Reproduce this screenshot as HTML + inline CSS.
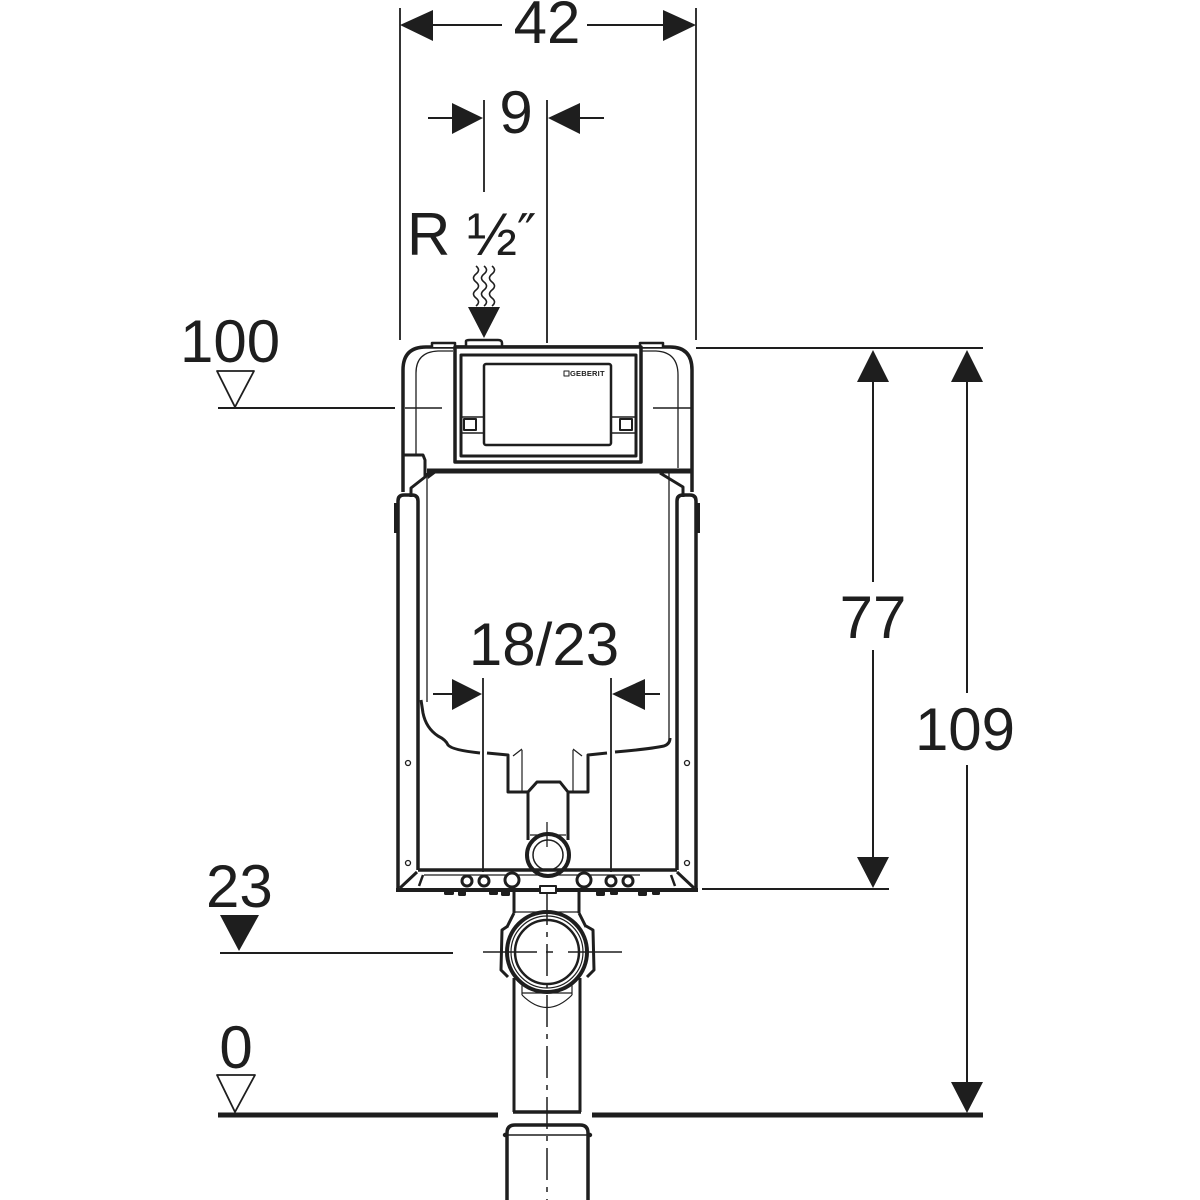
<!DOCTYPE html>
<html>
<head>
<meta charset="utf-8">
<style>
html,body{margin:0;padding:0;background:#fff;}
svg{display:block;}
text{font-family:"Liberation Sans",Arial,sans-serif;fill:#1e1e1e;}
</style>
</head>
<body>
<svg width="1200" height="1200" viewBox="0 0 1200 1200" xmlns="http://www.w3.org/2000/svg">
<rect width="1200" height="1200" fill="#fff"/>
<g stroke="#1e1e1e" fill="none" stroke-linecap="butt" stroke-linejoin="round">

<!-- ===== 42 dimension ===== -->
<line x1="400" y1="8" x2="400" y2="340" stroke-width="1.8"/>
<line x1="696" y1="8" x2="696" y2="340" stroke-width="1.8"/>
<line x1="433" y1="25" x2="502" y2="25" stroke-width="2"/>
<line x1="587" y1="25" x2="663" y2="25" stroke-width="2"/>
<polygon points="400,25 433,10 433,41" fill="#1e1e1e" stroke="none"/>
<polygon points="696,25 663,10 663,41" fill="#1e1e1e" stroke="none"/>

<!-- ===== 9 dimension ===== -->
<line x1="428" y1="118" x2="452" y2="118" stroke-width="2"/>
<polygon points="483,118 452,103 452,134" fill="#1e1e1e" stroke="none"/>
<line x1="484" y1="100" x2="484" y2="192" stroke-width="1.8"/>
<line x1="547" y1="100" x2="547" y2="343" stroke-width="1.8"/>
<polygon points="548,118 580,103 580,134" fill="#1e1e1e" stroke="none"/>
<line x1="580" y1="118" x2="604" y2="118" stroke-width="2"/>

<!-- wavy water lines + arrow -->
<path d="M476,266 q5,4 0,8 t0,8 t0,8 t0,8 t0,8" stroke-width="1.6"/>
<path d="M484,266 q5,4 0,8 t0,8 t0,8 t0,8 t0,8" stroke-width="1.6"/>
<path d="M492,266 q5,4 0,8 t0,8 t0,8 t0,8 t0,8" stroke-width="1.6"/>
<polygon points="468,307 500,307 484,338" fill="#1e1e1e" stroke="none"/>

<!-- ===== right dimension lines ===== -->
<line x1="696" y1="348" x2="983" y2="348" stroke-width="2"/>
<polygon points="873,350 857,382 889,382" fill="#1e1e1e" stroke="none"/>
<line x1="873" y1="382" x2="873" y2="582" stroke-width="2"/>
<line x1="873" y1="650" x2="873" y2="857" stroke-width="2"/>
<polygon points="857,857 889,857 873,888" fill="#1e1e1e" stroke="none"/>
<line x1="702" y1="889" x2="889" y2="889" stroke-width="2"/>

<polygon points="967,350 951,382 983,382" fill="#1e1e1e" stroke="none"/>
<line x1="967" y1="382" x2="967" y2="693" stroke-width="2"/>
<line x1="967" y1="765" x2="967" y2="1082" stroke-width="2"/>
<polygon points="951,1082 983,1082 967,1113" fill="#1e1e1e" stroke="none"/>

<!-- ===== level marks left ===== -->
<polygon points="217,371 254,371 235,407" stroke-width="1.8"/>
<line x1="218" y1="408" x2="395" y2="408" stroke-width="2"/>
<polygon points="220,915 259,915 239,951" fill="#1e1e1e" stroke="none"/>
<line x1="220" y1="953" x2="453" y2="953" stroke-width="2"/>
<polygon points="217,1075 255,1075 235,1112" stroke-width="1.8"/>

<!-- floor -->
<line x1="218" y1="1115" x2="498" y2="1115" stroke-width="5"/>
<line x1="592" y1="1115" x2="983" y2="1115" stroke-width="5"/>

<!-- ===== cistern upper housing ===== -->
<path d="M403,492 L403,370 Q403,347 426,347 L670,347 Q692,347 692,370 L692,492" stroke-width="3.5"/>
<path d="M432,347 L432,343 L455,343 L455,347" stroke-width="2.5" fill="#fff"/>
<path d="M466,347 L466,341 Q466,340 470,340 L498,340 Q502,340 502,343 L502,347" stroke-width="2.5" fill="#fff"/>
<path d="M640,347 L640,343 L663,343 L663,347" stroke-width="2.5" fill="#fff"/>
<path d="M416,455 L416,373 Q416,352 438,351 L453,351" stroke-width="1.3"/>
<path d="M678,468 L678,375 Q678,352 656,351 L642,351" stroke-width="1.3"/>
<path d="M403,455 L423,455 L425,460 L425,477 L411,488 L411,497" stroke-width="3"/>
<path d="M660,473 L683,487 L683,497" stroke-width="3"/>
<line x1="427" y1="471" x2="691" y2="471" stroke-width="5"/>
<polygon points="427,473 436,473 428,479" fill="#1e1e1e" stroke="none"/>

<!-- center 100 line inside -->
<line x1="405" y1="408" x2="442" y2="408" stroke-width="1.5"/>
<line x1="653" y1="408" x2="693" y2="408" stroke-width="1.5"/>

<!-- access panel -->
<rect x="455" y="347" width="186" height="115" stroke-width="3.5" fill="#fff"/>
<rect x="461" y="355" width="175" height="101" stroke-width="3"/>
<rect x="484" y="364" width="127" height="81" rx="2" stroke-width="2.5"/>
<line x1="461" y1="417" x2="484" y2="417" stroke-width="1.5"/>
<line x1="461" y1="433" x2="484" y2="433" stroke-width="1.5"/>
<rect x="464" y="419" width="12" height="11" stroke-width="2"/>
<line x1="611" y1="417" x2="636" y2="417" stroke-width="1.5"/>
<line x1="611" y1="433" x2="636" y2="433" stroke-width="1.5"/>
<rect x="620" y="419" width="12" height="11" stroke-width="2"/>
<rect x="564" y="371" width="5" height="5" stroke-width="1"/>

<!-- thin inner frame lines -->
<line x1="427" y1="473" x2="427" y2="702" stroke-width="1.3"/>
<line x1="669" y1="473" x2="669" y2="742" stroke-width="1.3"/>

<!-- side rails -->
<path d="M398,890 L398,501 Q398,495 404,495 L412,495 Q418,495 418,501 L418,870" stroke-width="3.5"/>
<path d="M696,890 L696,501 Q696,495 690,495 L683,495 Q677,495 677,501 L677,870" stroke-width="3.5"/>
<line x1="396" y1="503" x2="396" y2="533" stroke-width="4"/>
<line x1="698" y1="503" x2="698" y2="533" stroke-width="4"/>

<!-- tank outline -->
<path d="M421,700 L423,713 Q426,728 438,736 Q446,740 448,745 Q452,750 480,753" stroke-width="3"/>
<path d="M487,753 L508,755 L508,792 L528,792 L537,782 L560,782 L568,792 L588,792 L588,755 L607,753" stroke-width="3"/>
<path d="M615,752 Q650,749 664,746 Q670,744 670,738" stroke-width="3"/>
<line x1="522" y1="750" x2="522" y2="792" stroke-width="1.2"/>
<line x1="573" y1="750" x2="573" y2="792" stroke-width="1.2"/>
<line x1="513" y1="756" x2="522" y2="749" stroke-width="1.2"/>
<line x1="582" y1="756" x2="573" y2="749" stroke-width="1.2"/>

<!-- outlet stub -->
<line x1="528" y1="792" x2="528" y2="840" stroke-width="3"/>
<line x1="568" y1="792" x2="568" y2="840" stroke-width="3"/>
<line x1="530" y1="835" x2="566" y2="835" stroke-width="1.2"/>
<circle cx="548" cy="855" r="21" stroke-width="4" fill="#fff"/>
<circle cx="548" cy="855" r="15" stroke-width="1.5"/>
<line x1="547" y1="822" x2="547" y2="847" stroke-width="1.3"/>

<!-- 18/23 dimension -->
<line x1="433" y1="694" x2="452" y2="694" stroke-width="2"/>
<polygon points="482,694 452,679 452,710" fill="#1e1e1e" stroke="none"/>
<line x1="483" y1="678" x2="483" y2="872" stroke-width="1.8"/>
<line x1="611" y1="678" x2="611" y2="872" stroke-width="1.8"/>
<polygon points="612,694 645,679 645,710" fill="#1e1e1e" stroke="none"/>
<line x1="645" y1="694" x2="660" y2="694" stroke-width="2"/>

<!-- screw holes -->
<circle cx="408" cy="763" r="2.5" stroke-width="1.3"/>
<circle cx="408" cy="863" r="2.5" stroke-width="1.3"/>
<circle cx="687" cy="763" r="2.5" stroke-width="1.3"/>
<circle cx="687" cy="863" r="2.5" stroke-width="1.3"/>

<!-- bottom frame -->
<line x1="396" y1="890" x2="698" y2="890" stroke-width="4"/>
<line x1="418" y1="870" x2="677" y2="870" stroke-width="3.5"/>
<line x1="424" y1="875" x2="640" y2="875" stroke-width="1.2"/>
<line x1="400" y1="888" x2="417" y2="872" stroke-width="3"/>
<line x1="423" y1="875" x2="419" y2="886" stroke-width="2.5"/>
<line x1="694" y1="888" x2="677" y2="872" stroke-width="3"/>
<line x1="671" y1="875" x2="675" y2="886" stroke-width="2.5"/>
<g fill="#fff" stroke-width="3">
<circle cx="467" cy="881" r="5"/>
<circle cx="484" cy="881" r="5"/>
<circle cx="512" cy="880" r="7"/>
<circle cx="584" cy="880" r="7"/>
<circle cx="611" cy="881" r="5"/>
<circle cx="628" cy="881" r="5"/>
</g>
<g fill="#1e1e1e" stroke="none">
<rect x="444" y="891" width="10" height="4" rx="1.5"/>
<rect x="458" y="891" width="8" height="5" rx="1.5"/>
<rect x="489" y="891" width="9" height="4" rx="1.5"/>
<rect x="501" y="891" width="9" height="5" rx="1.5"/>
<rect x="596" y="891" width="9" height="5" rx="1.5"/>
<rect x="610" y="891" width="8" height="4" rx="1.5"/>
<rect x="638" y="891" width="9" height="5" rx="1.5"/>
<rect x="652" y="891" width="8" height="4" rx="1.5"/>
</g>
<rect x="540" y="886" width="16" height="7" stroke-width="2" fill="#fff"/>

<!-- ===== lower pipe ===== -->
<line x1="514" y1="892" x2="514" y2="913" stroke-width="3"/>
<line x1="579" y1="892" x2="579" y2="913" stroke-width="3"/>
<line x1="514" y1="912" x2="579" y2="912" stroke-width="1.2"/>
<path d="M514,913 L507,927" stroke-width="3"/>
<path d="M579,913 L586,927" stroke-width="3"/>
<path d="M508,926 L502,930 L501,970 L508,977" stroke-width="3"/>
<path d="M586,926 L593,930 L594,970 L587,977" stroke-width="3"/>
<line x1="514" y1="978" x2="514" y2="1112" stroke-width="3"/>
<line x1="580" y1="978" x2="580" y2="1112" stroke-width="3"/>
<line x1="513" y1="1112" x2="581" y2="1112" stroke-width="3.5"/>
<circle cx="547" cy="952" r="40" stroke-width="4" fill="#fff"/>
<circle cx="547" cy="952" r="36" stroke-width="1.2"/>
<circle cx="547" cy="952" r="32" stroke-width="2.5"/>
<line x1="522" y1="993" x2="572" y2="993" stroke-width="1.2"/>
<path d="M522,995 Q547,1020 572,995" stroke-width="1.2"/>
<line x1="522" y1="985" x2="522" y2="995" stroke-width="1.2"/>
<line x1="572" y1="985" x2="572" y2="995" stroke-width="1.2"/>

<!-- cap below floor -->
<path d="M507,1202 L507,1133 Q507,1125 515,1125 L580,1125 Q588,1125 588,1133 L588,1202" stroke-width="3.5"/>
<line x1="505" y1="1135" x2="590" y2="1135" stroke-width="1.5"/>
<circle cx="505" cy="1135" r="2.2" fill="#1e1e1e" stroke="none"/>
<circle cx="590" cy="1135" r="2.2" fill="#1e1e1e" stroke="none"/>

<!-- center lines -->
<line x1="547" y1="893" x2="547" y2="1200" stroke-width="1.5" stroke-dasharray="32,7,5,7"/>
<line x1="483" y1="952" x2="537" y2="952" stroke-width="1.5"/>
<line x1="546" y1="952" x2="553" y2="952" stroke-width="1.5"/>
<line x1="568" y1="952" x2="622" y2="952" stroke-width="1.5"/>
</g>

<!-- logo -->
<text x="570" y="376" font-size="7.5" font-weight="bold" style="letter-spacing:0.2px">GEBERIT</text>

<!-- ===== labels ===== -->
<text x="547" y="43" font-size="60" text-anchor="middle">42</text>
<text x="516" y="133" font-size="60" text-anchor="middle">9</text>
<text x="407" y="255" font-size="60">R ½<tspan font-family="'DejaVu Sans',sans-serif" font-size="52" dy="-4">″</tspan></text>
<text x="180" y="362" font-size="60">100</text>
<text x="873" y="638" font-size="60" text-anchor="middle">77</text>
<text x="965" y="750" font-size="60" text-anchor="middle">109</text>
<text x="544" y="665" font-size="60" text-anchor="middle">18/23</text>
<text x="206" y="907" font-size="60">23</text>
<text x="236" y="1068" font-size="60" text-anchor="middle">0</text>
</svg>
</body>
</html>
